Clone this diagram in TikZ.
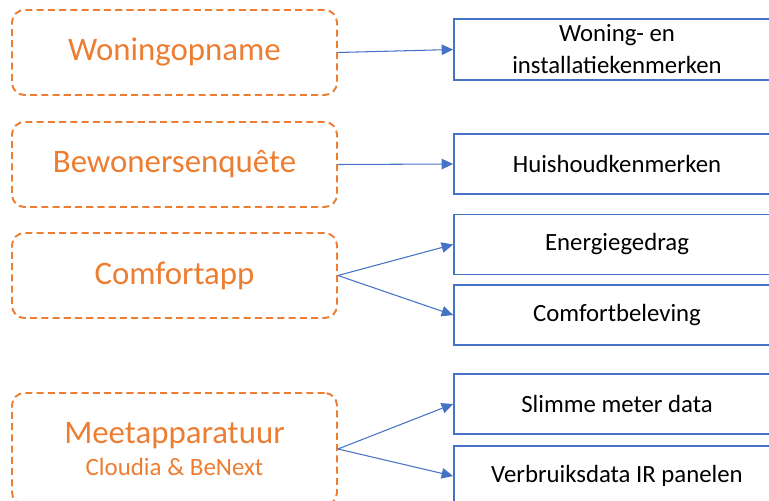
\documentclass[tikz,border=0pt]{standalone}
\usepackage{fontspec}
\setmainfont{Carlito}
\usepackage{xcolor}
\usetikzlibrary{arrows.meta, positioning}

\definecolor{bron}{HTML}{ED7D31}
\definecolor{data}{HTML}{4472C4}

\begin{document}
\begin{tikzpicture}[x=0.02cm, y=-0.02cm,
            source_box/.style={rectangle, rounded corners=7pt, draw=bron, dash pattern=on 4pt off 2.4pt,
            line width=1.1pt, minimum width=6.5cm, minimum height=1.7cm, align=center,
            text=bron, font=\fontsize{18.7}{20}\selectfont},
            data_box/.style={rectangle, draw=data, line width=1.1pt, minimum width=6.52cm,
            minimum height=1.2cm, align=center, font=\fontsize{14.1}{18.2}\selectfont},
            feed/.style={-{Triangle[length=6.5pt, width=6pt]}, draw=data, line width=0.6pt}
        ]
            \useasboundingbox (0,0) rectangle (769,501);
            \clip (0,0) rectangle (769,501);

            % Sources (left column)
            \node[source_box] (woning)  at (174.5, 52.5)  {Woningopname};
            \node[source_box] (enquete) at (174.5, 164.5) {Bewonersenquête};
            \node[source_box] (comfort) at (174.5, 275.5) {Comfortapp};
            \node[source_box, minimum height=2.24cm] (meet) at (174.5, 449)
                {Meetapparatuur\\[-2pt]{\fontsize{14.2}{16}\selectfont Cloudia \& BeNext}};

            % Data (right column)
            \node[data_box] (kenmerken) at (617, 49.5) {Woning- en\\installatiekenmerken};
            \node[data_box] (huishoud)  at (617, 164)  {Huishoudkenmerken};
            \node[data_box] (gedrag)    at (617, 244.5) {Energiegedrag};
            \node[data_box] (beleving)  at (617, 315)  {Comfortbeleving};
            \node[data_box] (slim)      at (617, 404)  {Slimme meter data};
            \node[data_box] (verbruik)  at (617, 476)  {Verbruiksdata IR panelen};

            % Connectors
            \draw[feed] (woning.east) -- (kenmerken.west);
            \draw[feed] (enquete.east) -- (huishoud.west);
            \foreach \n in {gedrag,beleving} {
                \draw[feed] (comfort.east) -- (\n.west);
            }
            \foreach \n in {slim,verbruik} {
                \draw[feed] (meet.east) -- (\n.west);
            }

        \end{tikzpicture}
\end{document}
